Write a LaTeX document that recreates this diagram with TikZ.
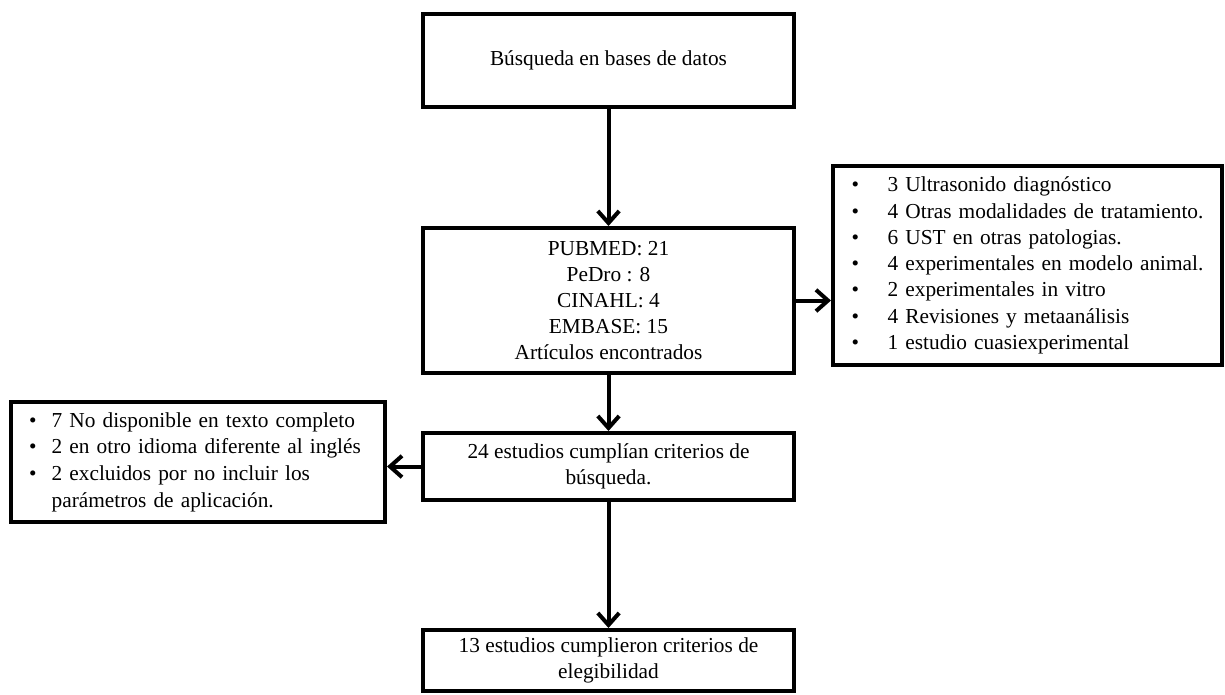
\documentclass[tikz,border=0pt]{standalone}
\usepackage{fontspec}
\setmainfont{Liberation Serif}
\usepackage{tikz}
\usetikzlibrary{calc,positioning,arrows.meta}
\tikzstyle{arrow} = [line width=3pt,-{Straight Barb[length=9pt,width=16pt]}]
\tikzstyle{block} = [draw, rectangle, line width=3pt, align=center, inner sep=0pt, font=\fontsize{16}{19.5}\selectfont]
\tikzstyle{listbox} = [draw, rectangle, line width=3pt, align=left, inner ysep=0pt, font=\fontsize{16}{19.7}\selectfont]
\newcommand{\bul}[2][27pt]{\mbox{\makebox[#1][l]{\textbullet}#2}}

\begin{document}
\begin{tikzpicture}[x=0.75pt,y=-0.75pt]
        \useasboundingbox (0,0) rectangle (1225,694);

        \node[block, minimum width=278.25pt, minimum height=69.75pt] (bus) at (608.5,60.5) {Búsqueda en bases de datos};
        \node[block, minimum width=278.25pt, minimum height=108.75pt] (art) at (608.5,300.5)
            {PUBMED: 21\\PeDro : 8\\CINAHL: 4\\EMBASE: 15\\Artículos encontrados};
        \node[listbox, text width=263.75pt, inner xsep=14pt, minimum height=149.25pt] (excl1) at (1027.5,265.5)
            {\bul{3 Ultrasonido diagnóstico}\\
             \bul{4 Otras modalidades de tratamiento.}\\
             \bul{6 UST en otras patologias.}\\
             \bul{4 experimentales en modelo animal.}\\
             \bul{2 experimentales in vitro}\\
             \bul{4 Revisiones y metaanálisis}\\
             \bul{1 estudio cuasiexperimental}};
        \node[block, minimum width=278.25pt, minimum height=50.25pt] (crit) at (608.5,466.5)
            {24 estudios cumplían criterios de\\búsqueda.};
        \node[listbox, text width=253.5pt, inner xsep=13.5pt, minimum height=90pt, font=\fontsize{16}{20}\selectfont] (excl2) at (198,462)
            {\bul[17pt]{7 No disponible en texto completo}\\
             \bul[17pt]{2 en otro idioma diferente al inglés}\\
             \bul[17pt]{2 excluidos por no incluir los}\\
             \hspace*{17pt}parámetros de aplicación.};
        \node[block, minimum width=278.25pt, minimum height=45.75pt] (eleg) at (608.5,660.5)
            {13 estudios cumplieron criterios de\\elegibilidad};

        \draw[arrow] (bus) -- (art);
        \draw[arrow] (art.east) -- (art.east -| excl1.west);
        \draw[arrow] (art) -- (crit);
        \draw[arrow] (crit.west) -- (crit.west -| excl2.east);
        \draw[arrow] (crit) -- (eleg);
    \end{tikzpicture}
\end{document}
